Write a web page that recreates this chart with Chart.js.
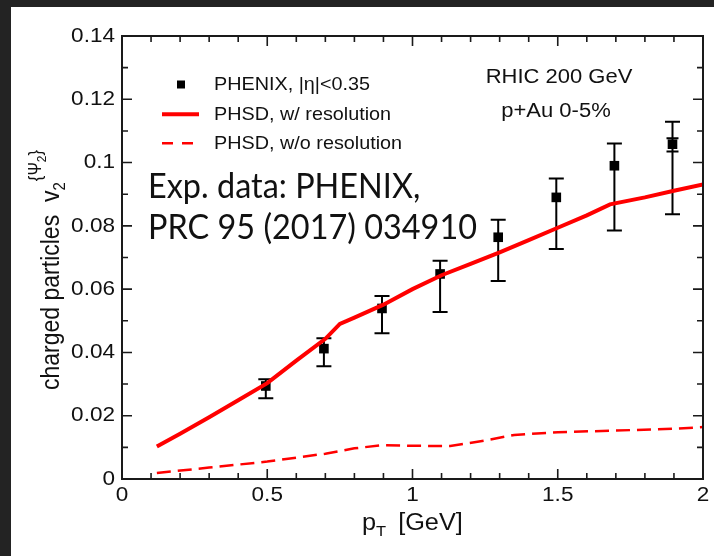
<!DOCTYPE html>
<html>
<head>
<meta charset="utf-8">
<script src="https://cdn.jsdelivr.net/npm/chart.js@4.4.0/dist/chart.umd.min.js"></script>
<style>
  html, body { margin: 0; padding: 0; background: #fff; overflow: hidden; }
  #wrap { width: 714px; height: 556px; position: relative; }
</style>
</head>
<body>
<div id="wrap"><canvas id="chart-area"></canvas></div>
<script>
// PHENIX |eta|<0.35 points with error bars
var ptX = [0.495, 0.695, 0.895, 1.095, 1.295, 1.495, 1.695, 1.895];
var ptY = [0.0294, 0.0412, 0.0539, 0.0648, 0.0764, 0.0890, 0.0990, 0.1058];
var errHi = [0.0315, 0.0445, 0.0578, 0.0690, 0.0819, 0.0950, 0.1060, 0.1129];
var errLo = [0.0255, 0.0356, 0.0461, 0.0528, 0.0626, 0.0727, 0.0785, 0.0837];
var sysHi = [null, null, null, null, null, null, null, 0.1077];
var sysLo = [null, null, null, null, null, null, null, 0.1035];

// PHSD with resolution
var solidX = [0.12, 0.2, 0.3, 0.4, 0.5, 0.6, 0.7, 0.75, 0.8, 0.9, 1.0, 1.1, 1.2, 1.3, 1.4, 1.5, 1.6, 1.68, 1.8, 1.9, 2.0];
var solidY = [0.0103, 0.0143, 0.0195, 0.0249, 0.0303, 0.0374, 0.0443, 0.0490, 0.0510, 0.0551, 0.0600, 0.0644, 0.0680, 0.0716, 0.0755, 0.0794, 0.0833, 0.0868, 0.0890, 0.0911, 0.0931];

// PHSD without resolution
var dashX = [0.12, 0.3, 0.5, 0.7, 0.8, 0.9, 1.0, 1.13, 1.25, 1.35, 1.5, 1.7, 1.9, 2.0];
var dashY = [0.0019, 0.0036, 0.0055, 0.0080, 0.0097, 0.0107, 0.0105, 0.0104, 0.0122, 0.0139, 0.0148, 0.0153, 0.0159, 0.0164];

var legendLabels = ['PHENIX, |\u03b7|<0.35', 'PHSD, w/ resolution', 'PHSD, w/o resolution'];
var noteLines = ['RHIC 200 GeV', 'p+Au 0-5%'];
var refLines = ['Exp. data: PHENIX,', 'PRC 95 (2017) 034910'];

var xMin = 0, xMax = 2, xStep = 0.5, xMinor = 0.1;
var yMin = 0, yMax = 0.14, yStep = 0.02, yMinor = 0.01;

var SX = 1.1;      // the source picture is a bit wider than tall
var FONT = '"Liberation Sans", Arial, sans-serif';
var INK = '#111';

function pairs(xs, ys) {
	return xs.map(function (x, i) { return { x: x, y: ys[i] }; });
}

function fmt(v) {
	return String(parseFloat(v.toFixed(2)));
}

function txt(ctx, s, x, y, size, align, base, sx) {
	ctx.save();
	ctx.translate(x, y);
	ctx.scale(sx || SX, 1);
	ctx.font = size + 'px ' + FONT;
	ctx.textAlign = align || 'left';
	ctx.textBaseline = base || 'alphabetic';
	ctx.fillStyle = INK;
	ctx.fillText(s, 0, 0);
	ctx.restore();
}

var background = {
	id: 'background',
	beforeDraw: function (chart) {
		var ctx = chart.ctx;
		ctx.save();
		ctx.fillStyle = '#fff';
		ctx.fillRect(0, 0, chart.width, chart.height);
		ctx.fillStyle = '#232323';
		ctx.fillRect(0, 0, chart.width, 7);
		ctx.fillRect(0, 0, 11, chart.height);
		ctx.restore();
	}
};

var errorBars = {
	id: 'errorBars',
	beforeDatasetsDraw: function (chart) {
		var ctx = chart.ctx, xs = chart.scales.x, ys = chart.scales.y;
		ctx.save();
		ctx.strokeStyle = '#000';
		ctx.lineWidth = 2;
		ptX.forEach(function (v, i) {
			var px = xs.getPixelForValue(v);
			var top = ys.getPixelForValue(errHi[i]);
			var bot = ys.getPixelForValue(errLo[i]);
			ctx.beginPath();
			ctx.moveTo(px, top); ctx.lineTo(px, bot);
			ctx.moveTo(px - 7.5, top); ctx.lineTo(px + 7.5, top);
			ctx.moveTo(px - 7.5, bot); ctx.lineTo(px + 7.5, bot);
			if (sysHi[i] != null) {
				var st = ys.getPixelForValue(sysHi[i]);
				var sb = ys.getPixelForValue(sysLo[i]);
				ctx.moveTo(px - 6, st); ctx.lineTo(px + 6, st);
				ctx.moveTo(px - 6, sb); ctx.lineTo(px + 6, sb);
			}
			ctx.stroke();
		});
		ctx.restore();
	}
};

var frame = {
	id: 'frame',
	afterDatasetsDraw: function (chart) {
		var ctx = chart.ctx, a = chart.chartArea;
		var xs = chart.scales.x, ys = chart.scales.y;
		ctx.save();
		ctx.strokeStyle = '#1a1a1a';
		ctx.lineWidth = 2;
		ctx.strokeRect(a.left, a.top, a.right - a.left, a.bottom - a.top);

		ctx.lineWidth = 1.6;
		ctx.beginPath();
		var v, p, len;
		for (v = xMin; v <= xMax + 1e-9; v += xMinor) {
			p = xs.getPixelForValue(v);
			len = Math.abs(v / xStep - Math.round(v / xStep)) < 1e-6 ? 10 : 6;
			ctx.moveTo(p, a.bottom); ctx.lineTo(p, a.bottom - len);
			ctx.moveTo(p, a.top); ctx.lineTo(p, a.top + len);
		}
		for (v = yMin; v <= yMax + 1e-9; v += yMinor) {
			p = ys.getPixelForValue(v);
			len = Math.abs(v / yStep - Math.round(v / yStep)) < 1e-6 ? 10 : 6;
			ctx.moveTo(a.left, p); ctx.lineTo(a.left + len, p);
			ctx.moveTo(a.right, p); ctx.lineTo(a.right - len, p);
		}
		ctx.stroke();
		ctx.restore();

		// tick labels from the library's tick lists
		xs.ticks.forEach(function (t) {
			txt(ctx, fmt(t.value), xs.getPixelForValue(t.value), a.bottom + 16, 20.5, 'center', 'middle');
		});
		ys.ticks.forEach(function (t) {
			txt(ctx, fmt(t.value), a.left - 7, ys.getPixelForValue(t.value), 20.5, 'right', 'middle');
		});

		// x title: p_T [GeV]
		var cx = 362, by = 530;
		ctx.save();
		ctx.font = '23px ' + FONT;
		var wP = ctx.measureText('p').width * SX;
		ctx.font = '15px ' + FONT;
		var wT = ctx.measureText('T').width * SX;
		ctx.restore();
		txt(ctx, 'p', cx, by, 23);
		txt(ctx, 'T', cx + wP, by + 6, 15);
		txt(ctx, '[GeV]', cx + wP + wT + 12, by, 23);

		// y title, rotated
		ctx.save();
		ctx.translate(59, 390);
		ctx.scale(SX, 1);
		ctx.rotate(-Math.PI / 2);
		ctx.fillStyle = INK;
		ctx.textBaseline = 'alphabetic';
		var u = 0;
		function put(s, size, dv) {
			ctx.font = size + 'px ' + FONT;
			ctx.fillText(s, u, dv);
			u += ctx.measureText(s).width;
		}
		put('charged particles  v', 23, 0);
		put('2', 15, 5);
		u += 1;
		put('{', 17, -16);
		put('\u03a8', 16, -16);
		put('2', 12, -12);
		put('}', 17, -16);
		ctx.restore();

		// legend
		ctx.save();
		ctx.fillStyle = '#000';
		ctx.fillRect(177, 80.5, 8, 8);
		ctx.strokeStyle = '#ff0000';
		ctx.lineWidth = 4;
		ctx.beginPath(); ctx.moveTo(162, 114.3); ctx.lineTo(199, 114.3); ctx.stroke();
		ctx.lineWidth = 2.5;
		ctx.setLineDash([11, 9]);
		ctx.beginPath(); ctx.moveTo(162, 143.3); ctx.lineTo(196, 143.3); ctx.stroke();
		ctx.restore();
		txt(ctx, legendLabels[0], 214, 84.5, 18.5, 'left', 'middle', 1.07);
		txt(ctx, legendLabels[1], 214, 114.5, 18.5, 'left', 'middle', 1.07);
		txt(ctx, legendLabels[2], 214, 143.5, 18.5, 'left', 'middle', 1.07);

		// collision system note
		txt(ctx, noteLines[0], 559, 77.5, 20, 'center', 'middle');
		txt(ctx, noteLines[1], 556, 111, 20, 'center', 'middle');

		// reference text
		ctx.save();
		ctx.font = '34px Lato, "Noto Sans", sans-serif';
		var k = 329 / ctx.measureText(refLines[1]).width;
		ctx.fillStyle = '#111';
		ctx.translate(148, 0);
		ctx.scale(k, 1);
		ctx.fillText(refLines[0], 0, 197.5);
		ctx.fillText(refLines[1], 0, 239);
		ctx.restore();
	}
};

var myChart = new Chart(document.getElementById('chart-area'), {
	type: 'scatter',
	data: {
		datasets: [{
			label: legendLabels[0],
			data: pairs(ptX, ptY),
			pointStyle: 'rect',
			pointRadius: 6.8,
			pointBorderWidth: 0,
			backgroundColor: '#000',
			borderColor: '#000',
			showLine: false,
			order: 3
		}, {
			label: legendLabels[1],
			data: pairs(solidX, solidY),
			showLine: true,
			pointRadius: 0,
			borderColor: '#ff0000',
			borderWidth: 4,
			tension: 0,
			order: 1
		}, {
			label: legendLabels[2],
			data: pairs(dashX, dashY),
			showLine: true,
			pointRadius: 0,
			borderColor: '#ff0000',
			borderWidth: 2.5,
			borderDash: [14, 7],
			tension: 0,
			order: 2
		}]
	},
	options: {
		responsive: true,
		maintainAspectRatio: false,
		animation: false,
		layout: { padding: { left: 0, top: 36, right: 11, bottom: 0 } },
		plugins: {
			legend: { display: false },
			tooltip: { enabled: false },
			title: { display: false }
		},
		scales: {
			x: {
				type: 'linear',
				min: xMin, max: xMax,
				ticks: { stepSize: xStep, display: false },
				grid: { display: false },
				border: { display: false },
				afterFit: function (s) { s.height = 77; }
			},
			y: {
				type: 'linear',
				min: yMin, max: yMax,
				ticks: { stepSize: yStep, display: false },
				grid: { display: false },
				border: { display: false },
				afterFit: function (s) { s.width = 122; }
			}
		}
	},
	plugins: [background, errorBars, frame]
});
</script>
</body>
</html>
